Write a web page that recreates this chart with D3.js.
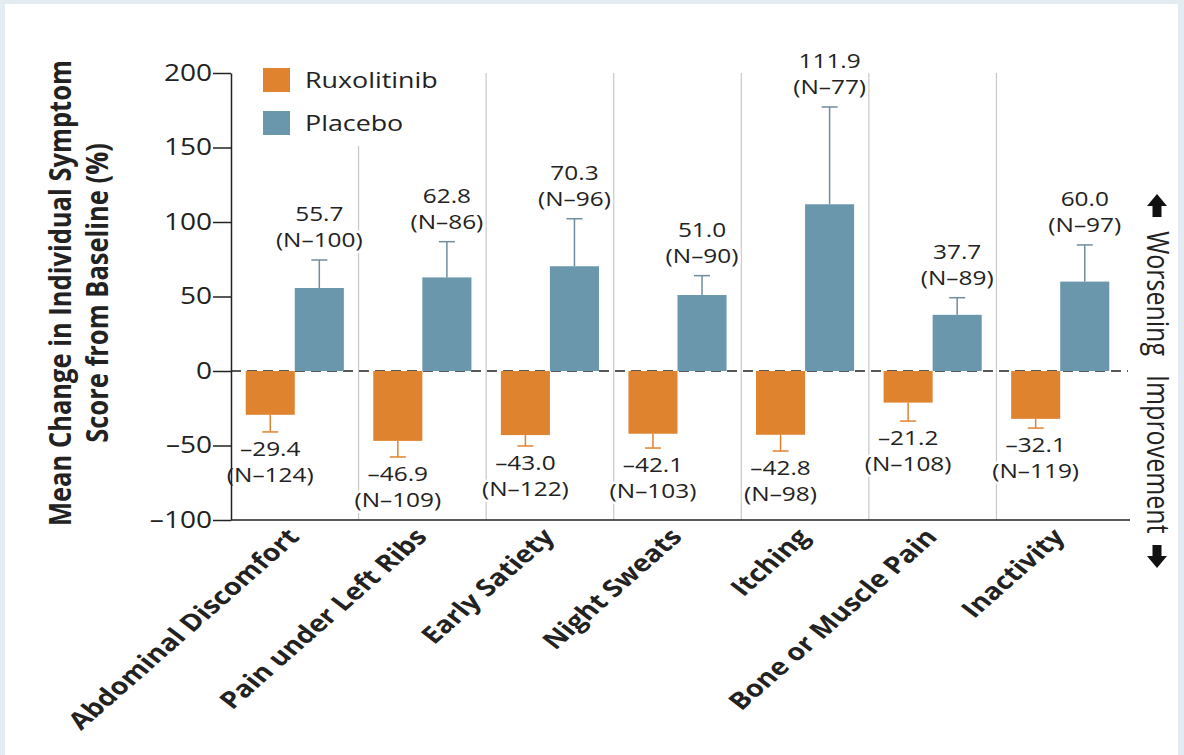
<!DOCTYPE html>
<html>
<head>
<meta charset="utf-8">
<script src="https://cdn.jsdelivr.net/npm/d3@7"></script>
<style>
  body { margin: 0; background: #e4ecf3; }
  text { font-family: "Open Sans", sans-serif; fill: #222; }
</style>
</head>
<body>
<div id="chart"></div>
<script>
// Data
const categories = ["Abdominal Discomfort", "Pain under Left Ribs", "Early Satiety", "Night Sweats",
                    "Itching", "Bone or Muscle Pain", "Inactivity"];
const series = ["Ruxolitinib", "Placebo"];
const ruxValues = [-29.4, -46.9, -43.0, -42.1, -42.8, -21.2, -32.1];
const ruxErr = [11.5, 10.8, 7.3, 9.6, 10.9, 12.4, 6.2];
const ruxN = [124, 109, 122, 103, 98, 108, 119];
const placeboValues = [55.7, 62.8, 70.3, 51.0, 111.9, 37.7, 60.0];
const placeboErr = [18.8, 24.0, 31.9, 13.0, 65.3, 11.5, 24.6];
const placeboN = [100, 86, 96, 90, 77, 89, 97];
const yTicks = [-100, -50, 0, 50, 100, 150, 200];

const colors = { Ruxolitinib: "#e0832f", Placebo: "#6b97ad" };
const errColors = { Ruxolitinib: "#e0832f", Placebo: "#6f8d9c" };

const width = 1184, height = 755;
const SX = 1.22; // the figure's text is stretched horizontally

const svg = d3.select("#chart").append("svg")
    .attr("width", width)
    .attr("height", height);

svg.append("rect")
    .attr("x", 5).attr("y", 4)
    .attr("width", 1173).attr("height", 751)
    .attr("fill", "#fff");

// Scales
const y = d3.scaleLinear().domain([-100, 200]).range([520, 73]);
const x = d3.scaleBand().domain(categories).range([231, 1124]);
const xSub = d3.scaleBand().domain(series).range([0, x.bandwidth()]).paddingOuter(0.3);

function dash(v) { return v < 0 ? "\u2013" + Math.abs(v) : String(v); }
function dashFixed(v) { return v < 0 ? "\u2013" + Math.abs(v).toFixed(1) : v.toFixed(1); }

// Separators between groups
svg.append("g").selectAll("line")
    .data(categories.slice(1))
    .join("line")
    .attr("x1", d => x(d)).attr("x2", d => x(d))
    .attr("y1", y(200)).attr("y2", y(-100))
    .attr("stroke", "#c8c8c8")
    .attr("stroke-width", 1.2);

// Legend (white box hides the first separator)
const legend = svg.append("g");
legend.append("rect")
    .attr("x", 250).attr("y", 58).attr("width", 215).attr("height", 88)
    .attr("fill", "#fff");
series.forEach((s, i) => {
    legend.append("rect")
        .attr("x", 263).attr("y", 68 + i * 43)
        .attr("width", 27).attr("height", 24)
        .attr("fill", colors[s]);
    legend.append("text")
        .attr("transform", `translate(305,${88 + i * 43}) scale(${SX},1)`)
        .style("font-size", "22px")
        .text(s);
});

// Zero line
svg.append("line")
    .attr("x1", 231).attr("x2", 1128)
    .attr("y1", y(0)).attr("y2", y(0))
    .attr("stroke", "#222")
    .attr("stroke-width", 1.5)
    .attr("stroke-dasharray", "10,6");

// Bars + error bars + labels
const rows = categories.map((c, i) => [
    { cat: c, s: "Ruxolitinib", v: ruxValues[i], e: ruxErr[i], n: ruxN[i] },
    { cat: c, s: "Placebo", v: placeboValues[i], e: placeboErr[i], n: placeboN[i] }
]).flat();

const bars = svg.append("g");
bars.selectAll("rect")
    .data(rows)
    .join("rect")
    .attr("x", d => x(d.cat) + xSub(d.s))
    .attr("width", xSub.bandwidth())
    .attr("y", d => y(Math.max(0, d.v)))
    .attr("height", d => Math.abs(y(d.v) - y(0)))
    .attr("fill", d => colors[d.s]);

const cx = d => x(d.cat) + xSub(d.s) + xSub.bandwidth() / 2;
const capY = d => y(d.v < 0 ? d.v - d.e : d.v + d.e);

const err = svg.append("g").attr("stroke-width", 1.5);
err.selectAll(".stem")
    .data(rows)
    .join("line")
    .attr("x1", cx).attr("x2", cx)
    .attr("y1", d => y(d.v)).attr("y2", capY)
    .attr("stroke", d => errColors[d.s]);
err.selectAll(".cap")
    .data(rows)
    .join("line")
    .attr("x1", d => cx(d) - 8).attr("x2", d => cx(d) + 8)
    .attr("y1", capY).attr("y2", capY)
    .attr("stroke", d => errColors[d.s]);

const labels = svg.append("g")
    .attr("text-anchor", "middle")
    .style("font-size", "20px");
rows.forEach(d => {
    const cy = capY(d);
    const y1 = d.v < 0 ? cy + 24 : cy - 39;
    const y2 = d.v < 0 ? cy + 50 : cy - 13;
    [[y1, dashFixed(d.v)], [y2, "(N\u2013" + d.n + ")"]].forEach(([yy, t]) => {
        labels.append("text")
            .attr("transform", `translate(${cx(d)},${yy}) scale(${SX},1)`)
            .attr("stroke", "#fff")
            .attr("stroke-width", 5)
            .attr("paint-order", "stroke")
            .attr("stroke-linejoin", "round")
            .text(t);
    });
});

// Y axis
const yAxis = svg.append("g")
    .attr("transform", "translate(231,0)")
    .call(d3.axisLeft(y).tickValues(yTicks).tickSize(18).tickSizeOuter(0).tickFormat(dash));
yAxis.select(".domain").attr("stroke", "#222").attr("stroke-width", 1.5);
yAxis.selectAll(".tick line").attr("stroke", "#222").attr("stroke-width", 1.5);
yAxis.selectAll(".tick text")
    .attr("x", null)
    .attr("transform", `translate(-19,0) scale(${SX},1)`)
    .style("font-size", "23px")
    .style("font-family", "'Open Sans', sans-serif")
    .attr("fill", "#222");

// Bottom line
svg.append("line")
    .attr("x1", 231).attr("x2", 1130)
    .attr("y1", y(-100)).attr("y2", y(-100))
    .attr("stroke", "#222")
    .attr("stroke-width", 1.5);

// Category labels
svg.append("g").selectAll("text")
    .data(categories)
    .join("text")
    .attr("transform", d => `translate(${x(d) + x.bandwidth() / 2 + 6},538) scale(${SX},1) rotate(-47)`)
    .attr("text-anchor", "end")
    .style("font-size", "23.5px")
    .style("font-weight", "bold")
    .text(d => d);

// Y axis title
const titleLines = ["Mean Change in Individual Symptom", "Score from Baseline (%)"];
svg.append("g").selectAll("text")
    .data(titleLines)
    .join("text")
    .attr("transform", (d, i) => `translate(${71 + i * 37},293) scale(${SX},1) rotate(-90)`)
    .attr("text-anchor", "middle")
    .style("font-size", "25.5px")
    .style("font-weight", "bold")
    .text(d => d);

// Right side: Worsening / Improvement
const side = svg.append("g").style("font-size", "25px");
side.append("text")
    .attr("transform", `translate(1147,${y(0) - 15}) scale(${SX},1) rotate(90)`)
    .attr("text-anchor", "end")
    .text("Worsening");
side.append("text")
    .attr("transform", `translate(1147,${y(0) + 4}) scale(${SX},1) rotate(90)`)
    .attr("text-anchor", "start")
    .text("Improvement");

const arrow = "M0,-12 L10,0 L4.5,0 L4.5,11 L-4.5,11 L-4.5,0 L-10,0 Z";
side.append("path").attr("d", arrow).attr("transform", "translate(1157,206)").attr("fill", "#111");
side.append("path").attr("d", arrow).attr("transform", "translate(1157,556) rotate(180)").attr("fill", "#111");
</script>
</body>
</html>
